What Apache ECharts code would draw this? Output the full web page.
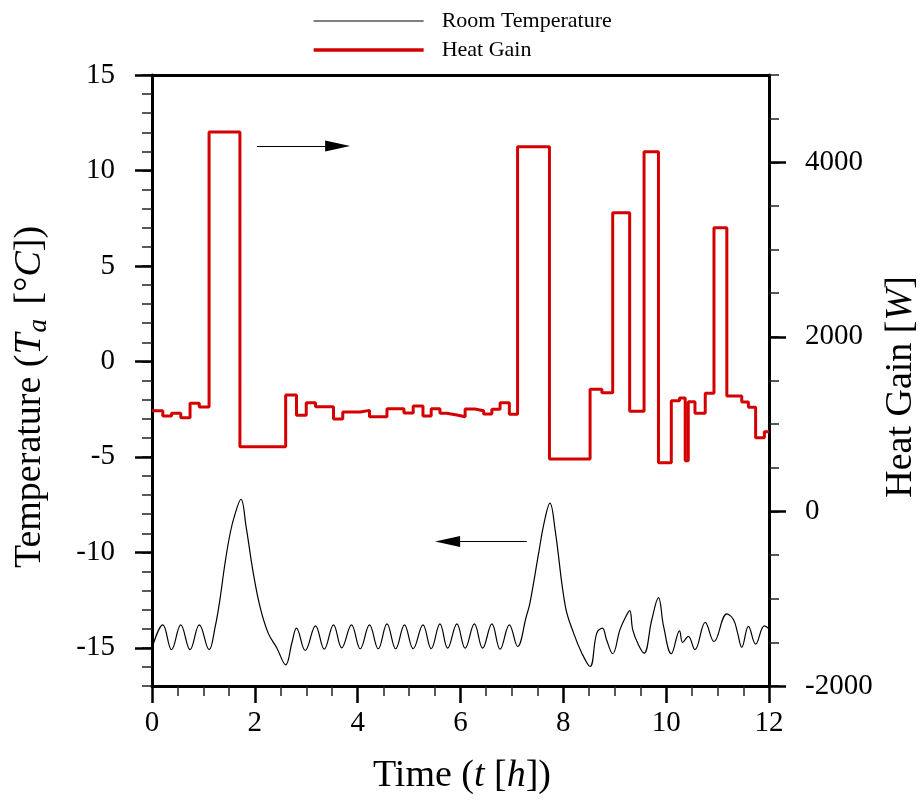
<!DOCTYPE html>
<html>
<head>
<meta charset="utf-8">
<script src="https://cdn.jsdelivr.net/npm/echarts@6/dist/echarts.min.js"></script>
<style>
html,body{margin:0;padding:0;background:#fff;}
#chart{width:924px;height:801px;}
</style>
</head>
<body>
<div id="chart"></div>
<script>
// Heat gain step function: start time of each step [h] and value [W]
const hgStart = [0, 0.21, 0.38, 0.56, 0.74, 0.92, 1.11, 1.71, 2.60, 2.81, 3.00, 3.18, 3.53, 3.71, 4.05, 4.23, 4.57, 4.90, 5.08, 5.27, 5.43, 5.60, 5.73, 5.93, 6.09, 6.28, 6.45, 6.61, 6.77, 6.95, 7.11, 7.73, 8.52, 8.75, 8.96, 9.29, 9.57, 9.85, 10.10, 10.26, 10.37, 10.43, 10.56, 10.76, 10.93, 11.18, 11.47, 11.60, 11.74, 11.91, 12];
const hgValue = [1154, 1093, 1124, 1074, 1239, 1196, 4347, 741, 1334, 1101, 1246, 1200, 1059, 1139, 1158, 1085, 1177, 1128, 1208, 1093, 1177, 1124, 1105, 1085, 1173, 1154, 1116, 1170, 1246, 1113, 4179, 600, 1399, 1360, 3422, 1147, 4121, 558, 1269, 1300, 581, 1257, 1124, 1353, 3251, 1322, 1254, 1193, 845, 914, 914];

// Room temperature [°C]
const tempTime = [0.00, 0.21, 0.38, 0.56, 0.74, 0.92, 1.11, 1.23, 1.32, 1.42, 1.52, 1.61, 1.73, 1.83, 1.97, 2.10, 2.26, 2.43, 2.60, 2.72, 2.81, 2.98, 3.18, 3.35, 3.53, 3.69, 3.88, 4.05, 4.23, 4.40, 4.57, 4.74, 4.91, 5.08, 5.27, 5.43, 5.60, 5.75, 5.93, 6.09, 6.27, 6.43, 6.61, 6.77, 6.95, 7.11, 7.28, 7.35, 7.52, 7.63, 7.74, 7.84, 8.04, 8.20, 8.36, 8.52, 8.65, 8.76, 8.84, 8.96, 9.10, 9.20, 9.29, 9.35, 9.46, 9.57, 9.72, 9.85, 9.95, 10.10, 10.26, 10.32, 10.43, 10.56, 10.76, 10.93, 11.18, 11.31, 11.39, 11.47, 11.60, 11.74, 11.91, 12.00];
const tempValue = [-15.02, -13.80, -15.10, -13.80, -15.10, -13.80, -15.10, -13.88, -12.49, -10.57, -9.00, -8.04, -7.22, -8.65, -11.09, -12.84, -14.23, -15.02, -15.89, -14.75, -13.97, -15.14, -13.85, -15.07, -13.80, -15.00, -13.80, -15.05, -13.80, -15.05, -13.75, -15.05, -13.80, -15.05, -13.80, -15.05, -13.75, -15.02, -13.75, -15.02, -13.75, -15.02, -13.75, -15.07, -13.80, -14.93, -13.36, -12.66, -10.04, -8.40, -7.42, -8.82, -12.84, -14.23, -15.28, -15.98, -14.23, -13.97, -14.58, -15.31, -14.06, -13.45, -13.05, -14.06, -14.84, -15.28, -13.53, -12.37, -13.88, -15.31, -14.11, -14.72, -14.40, -15.10, -13.67, -14.67, -13.22, -13.53, -14.23, -14.97, -13.88, -14.81, -13.85, -14.00];

// Tick labels
const xTicks = [0, 2, 4, 6, 8, 10, 12];
const leftTicks = [-15, -10, -5, 0, 5, 10, 15];
const rightTicks = [-2000, 0, 2000, 4000];

const hgData = hgStart.map((t, i) => [t, hgValue[i]]);
const tempData = tempTime.map((t, i) => [t, tempValue[i]]);

const FONT = 'Liberation Serif';
const TITLE = 38;
const TICKFS = 29;
const chart = echarts.init(document.getElementById('chart'), null, {renderer: 'canvas'});

const plain = v => String(v);

const option = {
  backgroundColor: '#fff',
  animation: false,
  grid: {left: 152, right: 155, top: 75, bottom: 115, containLabel: false},
  legend: {
    orient: 'vertical', left: 312, top: 10, padding: 0,
    itemWidth: 110, itemHeight: 14, itemGap: 7,
    itemStyle: {color: 'rgba(0,0,0,0)', borderWidth: 0, opacity: 0},
    textStyle: {fontFamily: FONT, fontSize: 22, lineHeight: 22, color: '#000', padding: [0, 0, 0, 13]},
    data: [
      {name: 'Room Temperature', lineStyle: {width: 1.2, color: '#000'}},
      {name: 'Heat Gain', lineStyle: {width: 3.3, color: '#d40000'}}
    ]
  },
  xAxis: [
    {
      type: 'value', min: 0, max: 12, interval: 2, position: 'bottom',
      axisLine: {show: true, onZero: false, lineStyle: {color: '#000', width: 3}},
      axisTick: {show: true, inside: false, length: 17, lineStyle: {color: '#000', width: 2.5}},
      minorTick: {show: true, splitNumber: 4, length: 10, lineStyle: {color: '#222', width: 1.5}},
      axisLabel: {fontFamily: FONT, fontSize: TICKFS, color: '#000', margin: 23, formatter: plain},
      splitLine: {show: false}
    },
    {
      type: 'value', min: 0, max: 12, position: 'top',
      axisLine: {show: true, onZero: false, lineStyle: {color: '#000', width: 3}},
      axisTick: {show: false}, axisLabel: {show: false}, splitLine: {show: false}
    }
  ],
  yAxis: [
    {
      type: 'value', min: -17, max: 15, interval: 1, position: 'left',
      axisLine: {show: true, onZero: false, lineStyle: {color: '#000', width: 3}},
      axisTick: {show: true, length: 10, lineStyle: {color: '#222', width: 1.5}},
      axisLabel: {show: false}, splitLine: {show: false}
    },
    {
      type: 'value', min: -17, max: 15, position: 'left',
      axisLine: {show: false, onZero: false},
      axisTick: {show: true, length: 17, customValues: leftTicks, lineStyle: {color: '#000', width: 2.5}},
      axisLabel: {show: true, customValues: leftTicks, fontFamily: FONT, fontSize: TICKFS, color: '#000', margin: 37, formatter: plain},
      splitLine: {show: false}
    },
    {
      type: 'value', min: -2000, max: 5000, interval: 500, position: 'right',
      axisLine: {show: true, onZero: false, lineStyle: {color: '#000', width: 3}},
      axisTick: {show: true, length: 10, lineStyle: {color: '#222', width: 1.5}},
      axisLabel: {show: false}, splitLine: {show: false}
    },
    {
      type: 'value', min: -2000, max: 5000, position: 'right',
      axisLine: {show: false, onZero: false},
      axisTick: {show: true, length: 17, customValues: rightTicks, lineStyle: {color: '#000', width: 2.5}},
      axisLabel: {show: true, customValues: rightTicks, fontFamily: FONT, fontSize: TICKFS, color: '#000', margin: 36, formatter: plain},
      splitLine: {show: false}
    }
  ],
  graphic: [
    {
      type: 'text', x: 30, y: 397, rotation: Math.PI / 2,
      style: {
        text: 'Temperature ({i|T}{s|a} [°{i|C}])',
        font: TITLE + 'px "Liberation Serif"', fill: '#000', align: 'center', verticalAlign: 'middle',
        rich: {
          i: {fontFamily: FONT, fontSize: TITLE, fontStyle: 'italic', fill: '#000'},
          s: {fontFamily: FONT, fontSize: 27, fontStyle: 'italic', fill: '#000', verticalAlign: 'bottom', padding: [18, 5, 0, 1]}
        }
      }
    },
    {
      type: 'text', x: 901, y: 387, rotation: Math.PI / 2,
      style: {
        text: 'Heat Gain [{i|W}]',
        font: TITLE + 'px "Liberation Serif"', fill: '#000', align: 'center', verticalAlign: 'middle',
        rich: {i: {fontFamily: FONT, fontSize: TITLE, fontStyle: 'italic', fill: '#000'}}
      }
    },
    {
      type: 'text', x: 462, y: 776,
      style: {
        text: 'Time ({i|t} [{i|h}])',
        font: TITLE + 'px "Liberation Serif"', fill: '#000', align: 'center', verticalAlign: 'middle',
        rich: {i: {fontFamily: FONT, fontSize: TITLE, fontStyle: 'italic', fill: '#000'}}
      }
    }
  ],
  series: [
    {
      name: 'Room Temperature', type: 'line', xAxisIndex: 0, yAxisIndex: 0,
      data: tempData, smooth: 0.4, symbol: 'none', showSymbol: false,
      lineStyle: {color: '#000', width: 1.2}, itemStyle: {color: '#000'},
      z: 3,
      markLine: {
        silent: true, symbol: ['none', 'triangle'], symbolSize: [11, 25],
        label: {show: false},
        lineStyle: {color: '#000', width: 1, type: 'solid'},
        itemStyle: {color: '#000'},
        data: [
          [{coord: [2.04, 11.28]}, {coord: [3.61, 11.28]}],
          [{coord: [7.29, -9.43]}, {coord: [5.75, -9.43]}]
        ]
      }
    },
    {
      name: 'Heat Gain', type: 'line', xAxisIndex: 0, yAxisIndex: 2,
      data: hgData, step: 'end', symbol: 'none', showSymbol: false,
      lineStyle: {color: '#d40000', width: 3}, itemStyle: {color: '#d40000'},
      z: 2
    }
  ]
};
chart.setOption(option);
</script>
</body>
</html>
